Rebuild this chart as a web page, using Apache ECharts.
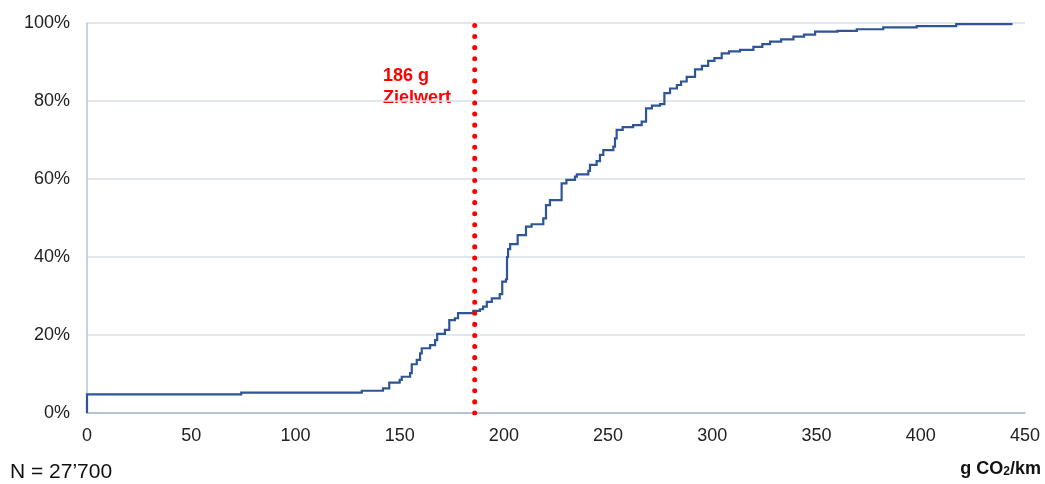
<!DOCTYPE html>
<html>
<head>
<meta charset="utf-8">
<script src="https://cdn.jsdelivr.net/npm/echarts@6/dist/echarts.min.js"></script>
<style>html,body{margin:0;padding:0;background:#fff}#c{width:1045px;height:484px}</style>
</head>
<body>
<div id="c"></div>
<script>
// Cumulative share (%) by CO2 emission (g/km): step points [x, y]
const emissions = [0,0,74,131.8,142,145,150,151,155,155.8,158.2,159.8,160.6,164.6,167,168,171.7,173.8,176.5,178,185.3,188.5,190,191.8,194.2,198,199.2,201,201.5,202,203,206.6,210.6,213.3,218.9,220.2,222.1,227.7,230,234.1,235,240.5,241.3,244.5,246.1,247.7,252.5,253.3,254.1,257,262,266.1,268.2,271,274.9,277,279.7,283,285,287.7,291.7,295,298,301,304.5,308,313.3,319.7,324,327.7,333,338.9,344,349.3,360,369.3,382,398,417,444];
const cumShare = [0,4.8,5.2,5.7,6.3,7.8,8.5,9.3,10.2,12.5,13.6,15.3,16.6,17.4,18.7,20.3,21.3,23.8,24.3,25.6,26.2,26.6,27.3,28.5,29.4,30.5,33.7,34.3,40,42,43.3,45.6,47.8,48.4,49.9,53.3,54.6,58.9,59.8,60.6,61.2,62.1,63.6,64.6,66.2,67.4,68.3,70.4,72.6,73.3,73.8,74.7,78.1,78.8,79.2,82,83.2,84.1,85,86.2,88.1,89,90.3,91,92.2,92.7,93.1,93.9,94.6,95.2,95.8,96.5,97,97.8,98,98.4,98.9,99.2,99.7,99.7];
const targetValue = 186;
const targetLabel = ['186 g', 'Zielwert'];
const xTicks = [0,50,100,150,200,250,300,350,400,450];
const yTicks = [0,20,40,60,80,100];
const sampleNote = 'N = 27\u2019700';

const chart = echarts.init(document.getElementById('c'));
const curve = emissions.map((x, i) => [x, cumShare[i]]);

function renderStep(params, api) {
  if (params.dataIndex !== 0) return null;
  const pts = [];
  for (let i = 0; i < curve.length; i++) {
    const p = api.coord(curve[i]);
    if (i > 0) {
      const prev = api.coord(curve[i - 1]);
      pts.push([p[0], prev[1]]);
    }
    pts.push(p);
  }
  return {
    type: 'polyline',
    shape: { points: pts },
    style: { stroke: '#2f5597', lineWidth: 2.2, fill: null, lineJoin: 'miter' }
  };
}

chart.setOption({
  animation: false,
  grid: { left: 87, right: 20, top: 23, bottom: 71 },
  xAxis: {
    type: 'value', min: xTicks[0], max: xTicks[xTicks.length - 1], interval: 50,
    axisLine: { show: true, lineStyle: { color: '#aab6cc', width: 1.5 } },
    axisTick: { show: false },
    splitLine: { show: false },
    axisLabel: { color: '#222', fontSize: 18, fontFamily: 'Liberation Sans, Arial', margin: 14 }
  },
  yAxis: {
    type: 'value', min: yTicks[0], max: yTicks[yTicks.length - 1], interval: 20,
    axisLine: { show: true, lineStyle: { color: '#b8c3d6', width: 1.5 } },
    axisTick: { show: false },
    splitLine: { show: true, lineStyle: { color: '#d9dee8', width: 1.5 } },
    axisLabel: { color: '#222', fontSize: 18, fontFamily: 'Liberation Sans, Arial', margin: 17, formatter: '{value}%' }
  },
  series: [
    {
      type: 'custom', data: curve, encode: { x: 0, y: 1 },
      renderItem: renderStep, z: 3
    },
    {
      type: 'line', data: [[targetValue, 0], [targetValue, 100]], symbol: 'none',
      lineStyle: { color: '#ff0000', width: 5, type: [0.1, 10.97], cap: 'round' }, z: 4
    }
  ],
  graphic: [
    { type: 'text', left: 383, top: 65, style: { text: targetLabel.join('\n'), fill: '#ff0000', font: 'bold 18px "Liberation Sans", Arial', lineHeight: 22 } },
    { type: 'text', left: 10, top: 462, style: { text: sampleNote, fill: '#111', font: '21px "Liberation Sans", Arial' } },
    { type: 'text', right: 4, top: 460, style: {
        text: '{a|g CO}{s|2}{a|/km}',
        rich: {
          a: { fill: '#111', font: 'bold 18px "Liberation Sans", Arial', verticalAlign: 'bottom' },
          s: { fill: '#111', font: 'bold 12px "Liberation Sans", Arial', padding: [8, 0, 0, 0], verticalAlign: 'bottom' }
        }
      } }
  ]
});
</script>
</body>
</html>
